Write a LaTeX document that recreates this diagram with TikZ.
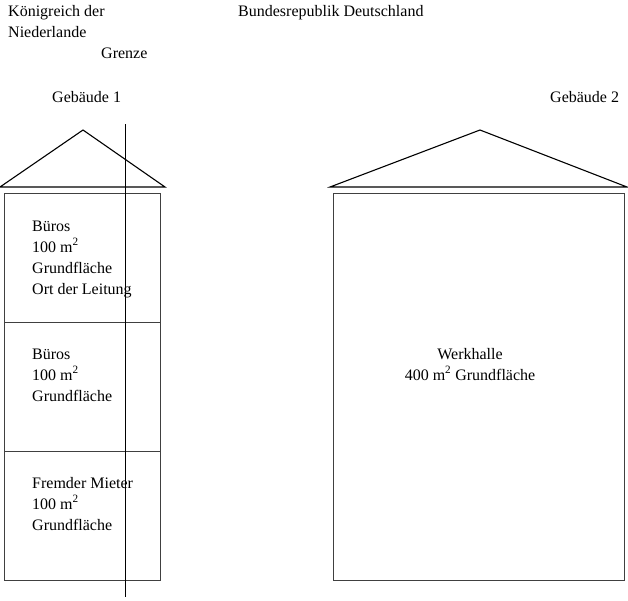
\documentclass[tikz,border=0pt]{standalone}
\usepackage{fontspec}
\setmainfont{Liberation Serif}
\usepackage{tikz}
\usetikzlibrary{positioning}

\begin{document}
\begin{tikzpicture}[x=1pt,y=-1pt,
  lbl/.style={inner sep=0pt,anchor=base west,align=left,
              font=\fontsize{16}{21}\selectfont},
  wall/.style={draw=black!75,line width=0.8pt},
  roof/.style={draw=black,line width=1.1pt}]
 \useasboundingbox (0,0) rectangle (628,600);
 % Laender und Grenze (base = letzte Zeile)
 \node[lbl] (nl) at (8,37) {Königreich der\\Niederlande};
 \node[lbl] (de) at (238,16) {Bundesrepublik Deutschland};
 \node[lbl] (grenze) at (101,58) {Grenze};
 \node[lbl] (g1) at (52,102) {Gebäude 1};
 \node[lbl] (g2) at (550,102) {Gebäude 2};
 % Gebaeude 1
 \draw[roof] (0,187) -- (83,130) -- (165,187) -- cycle;
 \draw[wall] (4,193) rectangle (160,580);
 \draw[wall] (4,322) -- (160,322);
 \draw[wall] (4,451) -- (160,451);
 \node[lbl] (r1) at (32,294) {Büros\\100 m\textsuperscript{2}\\Grundfläche\\Ort der Leitung};
 \node[lbl] (r2) at (32,401) {Büros\\100 m\textsuperscript{2}\\Grundfläche};
 \node[lbl] (r3) at (32,530) {Fremder Mieter\\100 m\textsuperscript{2}\\Grundfläche};
 % Gebaeude 2
 \draw[roof] (330,187) -- (480,130) -- (627,187) -- cycle;
 \draw[wall] (333,193) rectangle (624,580);
 \node[lbl,anchor=base,align=center] (halle) at (470,380) {Werkhalle\\400 m\textsuperscript{2} Grundfläche};
 % Grenzlinie
 \draw[black,line width=1pt] (125,124) -- (125,597);
\end{tikzpicture}
\end{document}
